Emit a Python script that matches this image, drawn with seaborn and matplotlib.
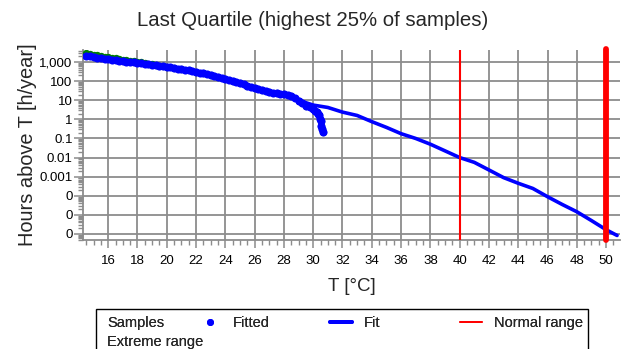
import matplotlib
matplotlib.use("Agg")
import matplotlib.pyplot as plt
import matplotlib.ticker as mticker
from matplotlib.lines import Line2D
from matplotlib.patches import Rectangle
import seaborn as sns
import pandas as pd

# ---------------- data ----------------
sample_temp = [14.5, 14.75, 15.0, 15.25, 15.5, 15.75, 16.0, 16.25, 16.5, 16.75, 17.0,
               17.25, 17.5, 17.75, 18.0, 18.25, 18.5, 18.75, 19.0, 19.25, 19.5, 19.75,
               20.0, 20.5, 21.0, 21.5, 22.0, 22.5, 23.0, 23.5, 24.0, 24.5, 25.0, 25.5,
               26.0, 26.5, 27.0, 27.5, 28.0, 28.5, 29.0, 29.5, 30.0, 30.25, 30.4, 30.5,
               30.55, 30.6, 30.65]
sample_hours = [3000, 2750, 2450, 2250, 2080, 1920, 1790, 1680, 1550, 1460, 1350,
                1270, 1180, 1110, 1040, 970, 900, 840, 770, 700, 650, 600,
                560, 490, 425, 365, 310, 257, 214, 170, 132, 102, 79, 58,
                42, 33, 27, 24, 21, 16.6, 8.9, 5.2, 3.5, 2.5, 1.6, 0.8,
                0.45, 0.32, 0.22]

fitted_temp = [14.5, 14.75, 15.0, 15.25, 15.5, 15.75, 16.0, 16.25, 16.5, 16.75, 17.0,
               17.25, 17.5, 17.75, 18.0, 18.25, 18.5, 18.75, 19.0, 19.25, 19.5, 19.75,
               20.0, 20.25, 20.5, 20.75, 21.0, 21.25, 21.5, 21.75, 22.0, 22.25, 22.5,
               22.75, 23.0, 23.25, 23.5, 23.75, 24.0, 24.25, 24.5, 24.75, 25.0, 25.25,
               25.5, 25.75, 26.0, 26.25, 26.5, 26.75, 27.0, 27.25, 27.5, 27.75, 28.0,
               28.25, 28.5, 28.75, 29.0, 29.25, 29.5, 29.75, 30.0, 30.15, 30.25, 30.35,
               30.4, 30.45, 30.5, 30.55, 30.6, 30.65]
fitted_hours = [2200, 2040, 1860, 1740, 1620, 1510, 1410, 1350, 1260, 1200, 1120,
                1070, 1000, 955, 910, 860, 810, 770, 720, 675, 630, 595,
                560, 525, 490, 457, 425, 394, 365, 335, 310, 282, 257,
                234, 214, 190, 170, 150, 132, 116, 102, 90, 79, 68,
                58, 49, 42, 37, 33, 30, 27, 25.4, 24, 22.6, 21,
                19.5, 16.6, 12.6, 8.9, 6.8, 5.2, 4.3, 3.5, 2.9, 2.5, 2.0,
                1.6, 1.1, 0.8, 0.45, 0.32, 0.22]

fit_temp = [14.5, 16, 18, 20, 22, 24, 26, 27, 28, 29, 30, 31, 32, 33, 34, 35, 36, 37,
            38, 39, 40, 41, 42, 43, 44, 45, 46, 47, 48, 49, 50, 50.75]
fit_hours = [2200, 1410, 910, 560, 310, 132, 42, 27, 21, 10, 5.6, 4.2, 2.4, 1.6, 0.76,
             0.38, 0.178, 0.1, 0.05, 0.0224, 0.01, 0.0056, 0.00224, 0.00089, 0.00045,
             0.00024, 8.9e-5, 3.5e-5, 1.45e-5, 5e-6, 1.66e-6, 8.3e-7]

normal_range = 40
extreme_range = 50

y_ticks = [1e-6, 1e-5, 1e-4, 1e-3, 1e-2, 1e-1, 1, 10, 100, 1000]
y_tick_labels = ["0", "0", "0", "0.001", "0.01", "0.1", "1", "10", "100", "1,000"]
x_ticks = list(range(16, 51, 2))

title = "Last Quartile (highest 25% of samples)"
xlabel = "T [°C]"
ylabel = "Hours above T [h/year]"

# ---------------- plot ----------------
sns.set_style("white")
plt.rcParams["font.family"] = ["Liberation Sans", "DejaVu Sans"]

W, H = 626, 349
fig = plt.figure(figsize=(W / 100, H / 100), dpi=100)
ax = fig.add_axes([83 / W, 1 - 240 / H, (620 - 83) / W, (240 - 50) / H])

grid_color = "#8c8c8c"
ylo, yhi = 4.8e-7, 4300

df_s = pd.DataFrame({"T": sample_temp, "h": sample_hours})
df_f = pd.DataFrame({"T": fitted_temp, "h": fitted_hours})
df_fit = pd.DataFrame({"T": fit_temp, "h": fit_hours})

sns.scatterplot(data=df_s, x="T", y="h", ax=ax, color="#008000", s=28,
                linewidth=0, zorder=3, legend=False)
sns.scatterplot(data=df_f, x="T", y="h", ax=ax, color="#0000ff", s=34,
                linewidth=0, zorder=4, legend=False)
sns.lineplot(data=df_fit, x="T", y="h", ax=ax, color="#0000ff", linewidth=2.6,
             estimator=None, sort=True, zorder=5, legend=False)
ax.plot([normal_range, normal_range], [ylo, yhi], color="#ff0000", linewidth=1.5,
        zorder=6)
ax.plot([extreme_range, extreme_range], [ylo, yhi * 1.12], color="#ff0000",
        linewidth=4.2, solid_capstyle="round", zorder=6, clip_on=False)

ax.set_yscale("log")
ax.set_ylim(ylo, yhi)
ax.set_xlim(14.28, 50.95)

ax.yaxis.set_major_locator(mticker.FixedLocator(y_ticks))
ax.yaxis.set_major_formatter(mticker.FixedFormatter(y_tick_labels))
ax.yaxis.set_minor_locator(mticker.LogLocator(base=10, subs=[2, 3, 4, 5, 6, 7, 8, 9],
                                              numticks=20))
ax.yaxis.set_minor_formatter(mticker.NullFormatter())
ax.xaxis.set_major_locator(mticker.FixedLocator(x_ticks))
ax.xaxis.set_minor_locator(mticker.MultipleLocator(0.5))

ax.grid(True, which="major", color=grid_color, linewidth=1.3)
ax.set_axisbelow(True)
for side in ["top", "right"]:
    ax.spines[side].set_visible(False)
for side in ["left", "bottom"]:
    ax.spines[side].set_color(grid_color)
    ax.spines[side].set_linewidth(1.3)

ax.tick_params(axis="both", which="both", bottom=True, left=True, top=False,
               right=False)
ax.tick_params(axis="x", which="major", direction="out", length=6, width=1.1,
               color=grid_color, labelsize=9.5, labelcolor="black", pad=4.5)
ax.tick_params(axis="y", which="major", direction="out", length=6.5, width=1.1,
               color=grid_color, labelsize=9.5, labelcolor="black", pad=1)
ax.tick_params(axis="both", which="minor", direction="out", length=3.8, width=1.0,
               color=grid_color)

fig.suptitle(title, x=313 / W, y=1 - 21 / H, va="center", fontsize=14.7)
ax.set_xlabel(xlabel, fontsize=13.5, labelpad=8)
ax.set_ylabel(ylabel, fontsize=14.4, labelpad=2)

# ---------------- legend ----------------
fig.add_artist(Rectangle((96 / W, 1 - 360 / H), (588 - 96) / W, (360 - 309) / H,
                         transform=fig.transFigure, fill=False, edgecolor="black",
                         linewidth=1.0))

leg_kw = dict(loc="upper left", frameon=False, fontsize=10.5, borderpad=0,
              borderaxespad=0, labelspacing=0.36, handletextpad=0.8,
              handlelength=1.5)
legend_columns = [
    (107, [Line2D([], [], linestyle="none")] * 2, ["Samples", "Extreme range"],
     dict(handlelength=0, handletextpad=0)),
    (199, [Line2D([], [], linestyle="none", marker="o", markersize=4,
                  color="#0000ff")], ["Fitted"], {}),
    (330, [Line2D([], [], color="#0000ff", linewidth=2.8)], ["Fit"], {}),
    (460, [Line2D([], [], color="#ff0000", linewidth=1.3)], ["Normal range"], {}),
]
for x0, hs, ls, extra in legend_columns:
    kw = dict(leg_kw)
    kw.update(extra)
    fig.add_artist(fig.legend(hs, ls, bbox_to_anchor=(x0 / W, 1 - 316 / H), **kw))

fig.savefig("out.png", dpi=100)
